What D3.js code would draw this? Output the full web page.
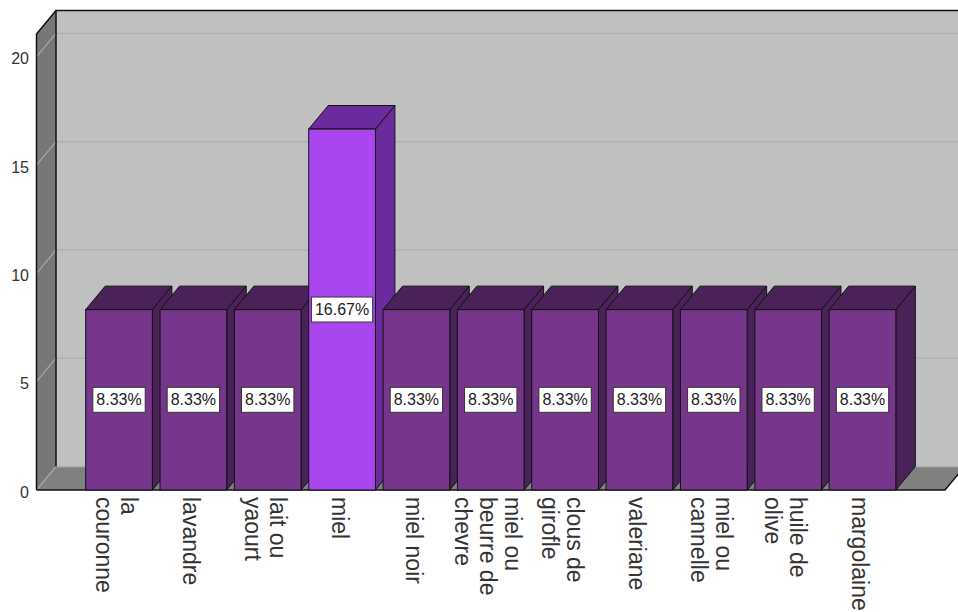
<!DOCTYPE html>
<html>
<head>
<meta charset="utf-8">
<script src="https://cdn.jsdelivr.net/npm/d3@7"></script>
<style>
  body { margin: 0; background: #fff; }
  text { font-family: "Liberation Sans", Arial, sans-serif; }
</style>
</head>
<body>
<div id="container"></div>
<script>
/**
 * DATA
 * */
const categories = ["la couronne", "lavandre", "lait ou yaourt", "miel", "miel noir",
  "miel ou beurre de chevre", "clous de girofle", "valeriane", "miel ou cannelle",
  "huile de olive", "margolaine"];
const percents = [8.33, 8.33, 8.33, 16.67, 8.33, 8.33, 8.33, 8.33, 8.33, 8.33, 8.33];
const yTicks = [0, 5, 10, 15, 20];
const highlighted = "miel";

/**
 * CONSTANTS
 * */
const width = 958,
  height = 612,
  plot = { left: 36.5, right: 945, top: 34, bottom: 490 },
  dx = 19.5, dy = 23.5; // 3d depth offset

const svg = d3.select("#container")
  .append("svg")
  .attr("width", width)
  .attr("height", height);

const y = d3.scaleLinear().domain([0, 21.06]).range([plot.bottom, plot.top]);
const x = d3.scaleBand()
  .domain(categories)
  .range([48.5, 933])
  .paddingInner(0.103)
  .paddingOuter(0.5);

// walls
const backL = plot.left + dx, backR = plot.right + dx,
  backT = plot.top - dy, backB = plot.bottom - dy;

svg.append("rect")
  .attr("x", backL).attr("y", backT)
  .attr("width", backR - backL).attr("height", backB - backT)
  .attr("fill", "#c0c0c0");

svg.append("polygon")
  .attr("points", [[plot.left, plot.top], [backL, backT], [backL, backB], [plot.left, plot.bottom]].join(" "))
  .attr("fill", "#777777");

svg.append("polygon")
  .attr("points", [[plot.left, plot.bottom], [backL, backB], [backR, backB], [plot.right, plot.bottom]].join(" "))
  .attr("fill", "#808080");

// gridlines
yTicks.forEach(t => {
  const yy = y(t);
  svg.append("line")
    .attr("x1", backL).attr("x2", backR)
    .attr("y1", yy - dy).attr("y2", yy - dy)
    .attr("stroke", "#b0b0b0").attr("stroke-width", 1.5);
  svg.append("line")
    .attr("x1", plot.left).attr("x2", backL)
    .attr("y1", yy).attr("y2", yy - dy)
    .attr("stroke", "#a8a8a8").attr("stroke-width", 1.2);
});

// wall outlines
const outline = [
  [[plot.left, plot.bottom], [plot.left, plot.top], [backL, backT], [backR, backT]],
  [[backL, backT], [backL, backB]],
  [[plot.left, plot.bottom], [plot.right, plot.bottom], [backR, backB]]
];
outline.forEach(pts => {
  svg.append("path")
    .attr("d", d3.line()(pts))
    .attr("fill", "none")
    .attr("stroke", "#111")
    .attr("stroke-width", 1.5);
});

// y tick labels
svg.selectAll(".ytick")
  .data(yTicks)
  .join("text")
  .attr("class", "ytick")
  .attr("x", 29)
  .attr("y", d => y(d) + 2)
  .attr("text-anchor", "end")
  .attr("dominant-baseline", "central")
  .attr("font-size", 16)
  .attr("fill", "#333")
  .text(d => d);

// bars
const bars = svg.selectAll(".bar")
  .data(categories.map((c, i) => ({ cat: c, value: percents[i] })))
  .join("g")
  .attr("class", "bar");

const front = d => d.cat === highlighted ? "#a946f0" : "#76368c";
const dark = d => d.cat === highlighted ? "#6c2b9c" : "#4b2159";

bars.append("polygon")
  .attr("points", d => {
    const x0 = x(d.cat) + x.bandwidth(), yt = y(d.value), yb = y(0);
    return [[x0, yt], [x0 + dx, yt - dy], [x0 + dx, yb - dy], [x0, yb]].join(" ");
  })
  .attr("fill", dark)
  .attr("stroke", "#111").attr("stroke-width", 1);

bars.append("polygon")
  .attr("points", d => {
    const x0 = x(d.cat), x1 = x0 + x.bandwidth(), yt = y(d.value);
    return [[x0, yt], [x0 + dx, yt - dy], [x1 + dx, yt - dy], [x1, yt]].join(" ");
  })
  .attr("fill", dark)
  .attr("stroke", "#111").attr("stroke-width", 1);

bars.append("rect")
  .attr("x", d => x(d.cat))
  .attr("y", d => y(d.value))
  .attr("width", x.bandwidth())
  .attr("height", d => y(0) - y(d.value))
  .attr("fill", front)
  .attr("stroke", "#111").attr("stroke-width", 1);

// value labels
const labels = svg.selectAll(".vlabel")
  .data(categories.map((c, i) => ({ cat: c, value: percents[i] })))
  .join("g")
  .attr("class", "vlabel")
  .attr("transform", d => `translate(${x(d.cat) + x.bandwidth() / 2},${y(d.value / 2)})`);

labels.append("rect")
  .attr("fill", "#fff")
  .attr("stroke", "#333")
  .attr("stroke-width", 1);

labels.append("text")
  .attr("text-anchor", "middle")
  .attr("dominant-baseline", "central")
  .attr("font-size", 16)
  .attr("fill", "#222")
  .text(d => d.value.toFixed(2) + "%");

labels.each(function () {
  const g = d3.select(this);
  const w = g.select("text").node().getComputedTextLength() + 7;
  g.select("rect")
    .attr("x", -w / 2).attr("y", -12.5)
    .attr("width", w).attr("height", 25);
});

// category labels, rotated and wrapped
const fontSize = 23, lineH = 25, maxW = 108;
const measure = svg.append("text").attr("font-size", fontSize).attr("visibility", "hidden");
function wrap(label) {
  const words = label.split(" ");
  const lines = [];
  let cur = "";
  words.forEach(w => {
    const test = cur ? cur + " " + w : w;
    measure.text(test);
    if (cur && measure.node().getComputedTextLength() > maxW) {
      lines.push(cur);
      cur = w;
    } else {
      cur = test;
    }
  });
  lines.push(cur);
  return lines;
}

categories.forEach(c => {
  const lines = wrap(c);
  const b0 = fontSize * 0.26 - (lines.length - 1) * lineH / 2;
  const g = svg.append("g")
    .attr("transform", `translate(${x(c) + x.bandwidth() / 2 - 4.5},497) rotate(90)`);
  g.selectAll("text")
    .data(lines)
    .join("text")
    .attr("x", 0)
    .attr("y", (d, i) => b0 + i * lineH)
    .attr("font-size", fontSize)
    .attr("fill", "#333")
    .text(d => d);
});
measure.remove();
</script>
</body>
</html>
